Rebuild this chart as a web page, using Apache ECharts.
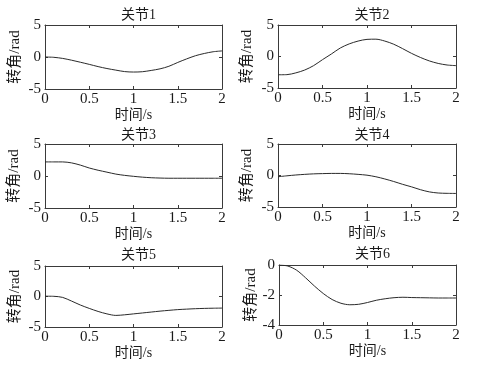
<!DOCTYPE html>
<html>
<head>
<meta charset="utf-8">
<script src="https://cdn.jsdelivr.net/npm/echarts@6/dist/echarts.min.js"></script>
<style>html,body{margin:0;padding:0;background:#fff}#c{width:479px;height:371px}</style>
</head>
<body>
<div id="c"></div>
<script>
var times = [0,0.1,0.2,0.3,0.4,0.5,0.6,0.7,0.8,0.9,1.0,1.1,1.2,1.3,1.4,1.5,1.6,1.7,1.8,1.9,2.0];
var joint1 = [0,-0.05,-0.22,-0.5,-0.82,-1.15,-1.5,-1.8,-2.05,-2.28,-2.35,-2.3,-2.1,-1.85,-1.45,-0.85,-0.3,0.2,0.55,0.82,0.95];
var joint2 = [-2.9,-2.88,-2.6,-2.15,-1.45,-0.5,0.4,1.35,2.0,2.45,2.72,2.75,2.45,1.95,1.25,0.5,-0.15,-0.7,-1.1,-1.35,-1.45];
var joint3 = [2.2,2.2,2.2,2.05,1.7,1.25,0.9,0.6,0.3,0.1,-0.05,-0.18,-0.27,-0.32,-0.35,-0.35,-0.35,-0.35,-0.35,-0.35,-0.35];
var joint4 = [-0.2,-0.05,0.08,0.18,0.26,0.3,0.33,0.33,0.28,0.18,0.05,-0.2,-0.55,-0.95,-1.4,-1.8,-2.25,-2.6,-2.78,-2.83,-2.85];
var joint5 = [0.05,0.03,-0.15,-0.75,-1.4,-1.95,-2.45,-2.85,-3.1,-3.0,-2.85,-2.7,-2.55,-2.4,-2.27,-2.15,-2.07,-2.0,-1.95,-1.92,-1.9];
var joint6 = [0,-0.07,-0.35,-0.85,-1.4,-1.9,-2.3,-2.55,-2.65,-2.62,-2.5,-2.35,-2.25,-2.18,-2.15,-2.17,-2.18,-2.19,-2.2,-2.2,-2.2];
var titles = ['关节1','关节2','关节3','关节4','关节5','关节6'];
var xName = '时间/s';
var yName = '转角/rad';
var xTicks = {min:0, max:2, interval:0.5};
var yTicks = [
  {min:-5,max:5,interval:5},{min:-5,max:5,interval:5},{min:-5,max:5,interval:5},
  {min:-5,max:5,interval:5},{min:-5,max:5,interval:5},{min:-4,max:0,interval:2}
];
var joints = [joint1,joint2,joint3,joint4,joint5,joint6];

var grids = [
  {left:45,top:25,width:177,height:64},
  {left:278,top:25,width:178,height:63},
  {left:45,top:144,width:177,height:64},
  {left:278,top:144,width:178,height:63},
  {left:45,top:266,width:177,height:61},
  {left:279,top:265,width:177,height:60}
];
var titleTops = [3,3,123,123,243,242];
var yNameGaps = [22,23,23,23,22,17];

var FONT = '"Liberation Serif","Noto Sans CJK SC",serif';
var lineCol = '#3a3a3a';
var txtCol = '#1a1a1a';

var xAxes = [], yAxes = [], series = [], title = [];
grids.forEach(function(g, i){
  title.push({text:titles[i], left:g.left + g.width/2, top:titleTops[i], textAlign:'center',
    textStyle:{fontFamily:FONT, fontSize:14, fontWeight:'normal', color:txtCol}});
  xAxes.push({type:'value', gridIndex:i, position:'bottom', min:xTicks.min, max:xTicks.max, interval:xTicks.interval,
    name:xName, nameLocation:'middle', nameGap:17,
    nameTextStyle:{fontFamily:FONT, fontSize:14, color:txtCol},
    axisLine:{onZero:false, lineStyle:{color:lineCol, width:1}},
    axisTick:{inside:true, length:3, lineStyle:{color:lineCol}},
    axisLabel:{fontFamily:FONT, fontSize:15, color:txtCol, margin:3},
    splitLine:{show:false}});
  xAxes.push({type:'value', gridIndex:i, position:'top', min:xTicks.min, max:xTicks.max, interval:xTicks.interval,
    axisLine:{onZero:false, lineStyle:{color:lineCol, width:1}},
    axisTick:{inside:true, length:3, lineStyle:{color:lineCol}},
    axisLabel:{show:false}, splitLine:{show:false}});
  var yt = yTicks[i];
  yAxes.push({type:'value', gridIndex:i, position:'left', min:yt.min, max:yt.max, interval:yt.interval,
    name:yName, nameLocation:'middle', nameGap:yNameGaps[i],
    nameTextStyle:{fontFamily:FONT, fontSize:15, color:txtCol},
    axisLine:{show:true, onZero:false, lineStyle:{color:lineCol, width:1}},
    axisTick:{show:true, inside:true, length:3, lineStyle:{color:lineCol}},
    axisLabel:{fontFamily:FONT, fontSize:15, color:txtCol, margin:4},
    splitLine:{show:false}});
  yAxes.push({type:'value', gridIndex:i, position:'right', min:yt.min, max:yt.max, interval:yt.interval,
    axisLine:{show:true, onZero:false, lineStyle:{color:lineCol, width:1}},
    axisTick:{show:true, inside:true, length:3, lineStyle:{color:lineCol}},
    axisLabel:{show:false}, splitLine:{show:false}});
  series.push({type:'line', xAxisIndex:2*i, yAxisIndex:2*i, showSymbol:false, smooth:0.3,
    lineStyle:{color:'#2a2a2a', width:1}, animation:false,
    data: times.map(function(t, k){ return [t, joints[i][k]]; })});
});

var chart = echarts.init(document.getElementById('c'), null, {renderer:'canvas'});
chart.setOption({backgroundColor:'#ffffff', animation:false, title:title, grid:grids, xAxis:xAxes, yAxis:yAxes, series:series});
</script>
</body>
</html>
